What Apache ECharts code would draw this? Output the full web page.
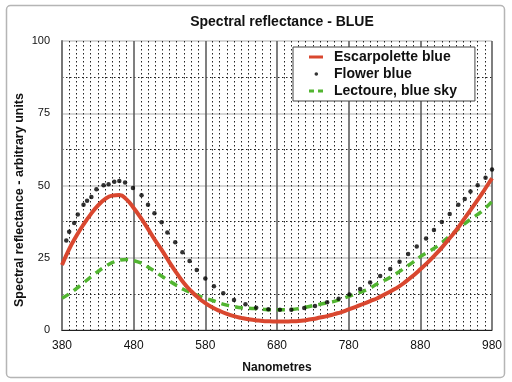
<!DOCTYPE html>
<html>
<head>
<meta charset="utf-8">
<script src="https://cdn.jsdelivr.net/npm/echarts@6/dist/echarts.min.js"></script>
<style>
html,body{margin:0;padding:0;background:#fff;}
#c{width:512px;height:382px;}
</style>
</head>
<body>
<div id="c"></div>
<script>
var wavelengths = [380,390,400,410,420,430,440,450,460,470,480,490,500,510,520,530,540,550,560,570,580,590,600,610,620,630,640,650,660,670,680,690,700,710,720,730,740,750,760,770,780,790,800,810,820,830,840,850,860,870,880,890,900,910,920,930,940,950,960,970,980];
var escarpolette = [22.5,28,32.5,36.5,40,43,45.3,46.5,46.7,45.2,42.2,38.8,35,31,27.4,23.4,19.7,16.3,13.5,11.2,9.3,7.8,6.6,5.6,4.8,4.2,3.7,3.4,3.1,3.0,2.9,2.9,3.0,3.1,3.4,3.8,4.3,4.8,5.5,6.2,7.1,8.0,9.0,10.0,11.0,12.3,13.6,15.0,16.8,18.8,21,23.3,25.8,28.5,31.5,34.5,38,41.5,45,48.7,52.5];
var lectoure = [11,12.5,14.3,16.3,18.3,20.2,21.9,23.3,24.2,24.4,24.0,23.2,21.8,20.2,18.5,16.9,15.4,14.0,12.9,11.9,11.0,10.2,9.3,8.6,8.1,7.7,7.5,7.4,7.2,7.0,7.0,7.0,7.1,7.4,7.9,8.4,8.9,9.4,9.9,10.7,11.6,12.6,13.4,14.5,16.0,17.2,18.5,20.1,21.8,23.5,25.4,26.9,28.4,30.2,32.3,34.3,36.4,38.3,40.0,42.0,44.5];
var flowerNm = [386,390,397,402,410,415,421,428,438,445,453,460,468,479,491,500,509,519,527,538,548,558,568,580,592,605,620,636,651,668,684,700,718,733,750,766,781,796,810,824,838,851,863,875,888,899,910,921,933,942,950,960,971,980];
var flowerVal = [31,34,37,40,43.3,44.7,46,48.7,50.1,50.4,51.3,51.6,51,49.1,46.6,43.3,40.4,37.3,33.7,30.4,26.9,23.9,20.8,17.8,15.1,12.7,10.4,8.9,7.7,7.2,7.0,7.0,7.6,8.3,9.6,10.8,12.3,14.2,16.4,18.7,21.1,23.6,26.3,28.9,31.7,34.6,37.4,40.1,43.3,45.3,47.9,50.1,52.7,55.5];
var seriesNames = ['Escarpolette blue','Flower blue','Lectoure, blue sky'];
var titleText = 'Spectral reflectance - BLUE';
var xName = 'Nanometres';
var yName = 'Spectral reflectance - arbitrary units';

function pairs(xs, ys){ return xs.map(function(x,i){ return [x, ys[i]]; }); }

var font = '"Liberation Sans", Arial, Helvetica, sans-serif';
var chart = echarts.init(document.getElementById('c'), null, {renderer:'canvas'});
chart.setOption({
  animation:false,
  backgroundColor:'#fff',
  textStyle:{fontFamily:font},
  graphic:[
    {type:'rect', shape:{x:6.5,y:5.5,width:498,height:372,r:4}, style:{fill:'none',stroke:'#b5b5b5',lineWidth:1.5}, silent:true, z:-1},
    {type:'text', x:20, y:200, rotation:Math.PI/2, style:{text:yName, fill:'#111', font:'bold 12.5px ' + font, textAlign:'center', textVerticalAlign:'middle'}, silent:true}
  ],
  title:{text:titleText, left:277, textAlign:'center', top:10, textStyle:{fontSize:14, fontWeight:'bold', color:'#111', fontFamily:font}},
  grid:{left:62, right:20, top:41, bottom:52},
  legend:{
    orient:'vertical', left:293, top:47,
    padding:[3,18,3,12], itemGap:3, itemWidth:24, itemHeight:11,
    backgroundColor:'#fff', borderColor:'#444', borderWidth:1,
    textStyle:{fontSize:14, fontWeight:'bold', color:'#111', fontFamily:font},
    data:[
      {name:seriesNames[0], icon:'path://M0,0 M24,11 M4,4 L18,4 L18,7 L4,7 Z'},
      {name:seriesNames[1], icon:'path://M0,0 M24,11 M9.5,5.5 A1.8,1.8 0 1,0 13.1,5.5 A1.8,1.8 0 1,0 9.5,5.5 Z'},
      {name:seriesNames[2], icon:'path://M0,0 M24,11 M4,4 L9,4 L9,7 L4,7 Z M13,4 L18,4 L18,7 L13,7 Z'}
    ]
  },
  xAxis:{
    type:'value', min:380, max:980, interval:100,
    name:xName, nameLocation:'middle', nameGap:32,
    nameTextStyle:{fontSize:12, fontWeight:'bold', color:'#111', fontFamily:font},
    axisLine:{show:true, lineStyle:{color:'#222', width:1}},
    axisTick:{show:false},
    axisLabel:{fontSize:12, color:'#111', margin:10, fontFamily:font},
    splitLine:{show:true, lineStyle:{color:'#555', width:1.5}},
    minorTick:{show:false, splitNumber:10},
    minorSplitLine:{show:true, lineStyle:{color:'#222', width:1, type:[1.5,2.5]}}
  },
  yAxis:{
    type:'value', min:0, max:100, interval:25,
    axisLine:{show:true, lineStyle:{color:'#777', width:2}},
    axisTick:{show:false},
    axisLabel:{fontSize:11, color:'#111', margin:12, fontFamily:font},
    splitLine:{show:true, lineStyle:{color:'#c8c8c8', width:1.5}},
    minorTick:{show:false, splitNumber:2},
    minorSplitLine:{show:true, lineStyle:{color:'#222', width:1, type:[1.5,2.5]}}
  },
  series:[
    {name:seriesNames[0], type:'line', data:pairs(wavelengths, escarpolette), smooth:true, showSymbol:false, symbol:'none',
      lineStyle:{color:'#d9472f', width:4}, itemStyle:{color:'#d9472f'}, z:3},
    {name:seriesNames[1], type:'scatter', data:pairs(flowerNm, flowerVal), symbol:'circle', symbolSize:4.5,
      itemStyle:{color:'#000'}, z:4},
    {name:seriesNames[2], type:'line', data:pairs(wavelengths, lectoure), smooth:true, showSymbol:false, symbol:'none',
      lineStyle:{color:'#52b531', width:3.5, type:[8,6]}, itemStyle:{color:'#52b531'}, z:2}
  ]
});
</script>
</body>
</html>
